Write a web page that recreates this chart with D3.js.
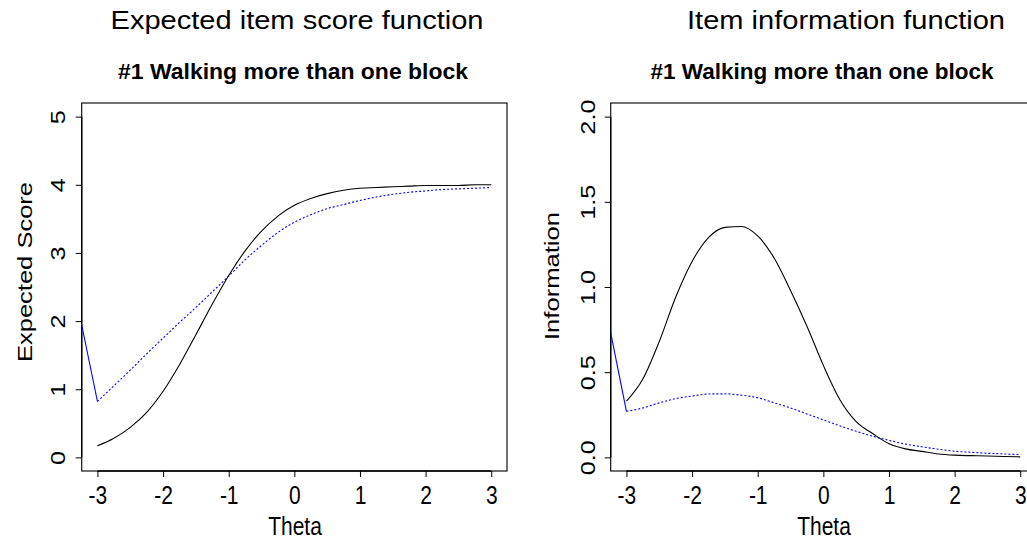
<!DOCTYPE html>
<html>
<head>
<meta charset="utf-8">
<script src="https://cdn.jsdelivr.net/npm/d3@7"></script>
<style>
  body { margin: 0; background: #fff; }
  svg { display: block; font-family: "Liberation Sans", Arial, sans-serif; }
</style>
</head>
<body>
<svg id="chart" width="1027" height="544"></svg>
<script>
// theta grid the curves were read at
var theta = [-3, -2.75, -2.5, -2.25, -2, -1.75, -1.5, -1.25, -1, -0.75, -0.5, -0.25,
  0, 0.25, 0.5, 0.75, 1, 1.25, 1.5, 1.75, 2, 2.25, 2.5, 2.75, 3];

// expected item score (black solid / blue dotted)
var scoreBlack = [0.17, 0.28, 0.44, 0.66, 0.97, 1.36, 1.80, 2.25, 2.67, 3.03, 3.32, 3.54,
  3.70, 3.80, 3.87, 3.92, 3.95, 3.96, 3.97, 3.98, 3.99, 3.99, 3.99, 4.0, 4.0];
var scoreBlue = [0.82, 1.05, 1.28, 1.52, 1.75, 1.98, 2.20, 2.43, 2.66, 2.90, 3.11, 3.30,
  3.45, 3.56, 3.65, 3.71, 3.77, 3.82, 3.86, 3.89, 3.91, 3.93, 3.94, 3.95, 3.96];

// item information (black solid / blue dotted)
var infoBlack = [0.33, 0.46, 0.68, 0.94, 1.15, 1.29, 1.35, 1.355, 1.30, 1.17, 0.98, 0.77,
  0.54, 0.34, 0.21, 0.14, 0.08, 0.05, 0.035, 0.02, 0.013, 0.01, 0.008, 0.005, 0.003];
var infoBlue = [0.27, 0.29, 0.32, 0.345, 0.36, 0.372, 0.373, 0.365, 0.35, 0.32, 0.29, 0.255,
  0.22, 0.185, 0.153, 0.124, 0.10, 0.078, 0.062, 0.048, 0.036, 0.03, 0.024, 0.02, 0.016];

// the short solid blue piece at the left edge
var lowEndTheta = [-3.25, -3];
var scoreLowEnd = [1.99, 0.82];
var infoLowEnd = [0.75, 0.27];

var xTicks = [-3, -2, -1, 0, 1, 2, 3];
var scoreTicks = [0, 1, 2, 3, 4, 5];
var infoTicks = [0, 0.5, 1, 1.5, 2];

var svg = d3.select("#chart");
var font = 21;
var stretch = 1.2;   // the original text is drawn a bit taller than wide

function panel(opt) {
  var x = d3.scaleLinear().domain([-3.24, 3.24]).range([opt.left, opt.right]);
  var y = d3.scaleLinear().domain(opt.ydom).range([471, 103]);
  var g = svg.append("g");

  g.append("clipPath").attr("id", opt.id)
    .append("rect")
    .attr("x", opt.left).attr("y", 103)
    .attr("width", opt.right - opt.left).attr("height", 471 - 103);

  // box
  g.append("rect")
    .attr("x", opt.left).attr("y", 103)
    .attr("width", opt.right - opt.left).attr("height", 471 - 103)
    .attr("fill", "none").attr("stroke", "#111").attr("stroke-width", 1.2);

  // x axis
  var xa = g.append("g").attr("transform", "translate(0,471)")
    .call(d3.axisBottom(x).tickValues(xTicks).tickSize(6).tickSizeOuter(0));
  xa.select(".domain").remove();
  xa.append("line")
    .attr("x1", x(xTicks[0])).attr("x2", x(xTicks[xTicks.length - 1]))
    .attr("stroke", "#000").attr("stroke-width", 1.4);
  xa.selectAll(".tick line").attr("stroke", "#000");
  xa.selectAll(".tick text")
    .attr("y", 0).attr("dy", null)
    .attr("transform", "translate(0,33) scale(1," + stretch + ")")
    .style("font-size", font + "px").style("fill", "#000")
    .text(function (d) { return d < 0 ? "-" + Math.abs(d) : d; });

  // y axis, labels turned like R's default
  var ya = g.append("g").attr("transform", "translate(" + opt.left + ",0)")
    .call(d3.axisLeft(y).tickValues(opt.yticks).tickSize(6).tickSizeOuter(0).tickFormat(opt.yfmt));
  ya.select(".domain").remove();
  ya.append("line")
    .attr("y1", y(opt.yticks[0])).attr("y2", y(opt.yticks[opt.yticks.length - 1]))
    .attr("stroke", "#000").attr("stroke-width", 1.4);
  ya.selectAll(".tick line").attr("stroke", "#000");
  ya.selectAll(".tick text")
    .attr("x", 0).attr("dy", null)
    .attr("text-anchor", "middle")
    .attr("transform", "translate(" + (-opt.tickGap) + ",0) rotate(-90) scale(" + stretch + ",1)")
    .style("font-size", font + "px").style("fill", "#000");

  var line = d3.line()
    .x(function (d) { return x(d[0]); })
    .y(function (d) { return y(d[1]); })
    .curve(d3.curveMonotoneX);

  var plot = g.append("g").attr("clip-path", "url(#" + opt.id + ")");

  plot.append("path")
    .datum(d3.zip(lowEndTheta, opt.lowEnd))
    .attr("d", line)
    .attr("fill", "none").attr("stroke", "#0000ff").attr("stroke-width", 1.1);

  plot.append("path")
    .datum(d3.zip(theta, opt.blue))
    .attr("d", line)
    .attr("fill", "none").attr("stroke", "#0000ff").attr("stroke-width", 1.1)
    .attr("stroke-dasharray", "2,2");

  plot.append("path")
    .datum(d3.zip(theta, opt.black))
    .attr("d", line)
    .attr("fill", "none").attr("stroke", "#000").attr("stroke-width", 1.1);

  // titles and axis labels
  svg.append("text")
    .attr("transform", "translate(" + opt.titleX + ",29) scale(1,1.05)")
    .attr("text-anchor", "middle")
    .attr("textLength", opt.titleLen).attr("lengthAdjust", "spacingAndGlyphs")
    .style("font-size", "25px")
    .text(opt.title);

  svg.append("text")
    .attr("transform", "translate(" + opt.subX + ",79) scale(1," + stretch + ")")
    .attr("text-anchor", "middle")
    .attr("textLength", opt.subLen).attr("lengthAdjust", "spacingAndGlyphs")
    .style("font-size", "19px").style("font-weight", "bold")
    .text("#1 Walking more than one block");

  svg.append("text")
    .attr("transform", "translate(" + (opt.left + 295 - 81.7) + ",535) scale(1," + stretch + ")")
    .attr("text-anchor", "middle")
    .style("font-size", font + "px")
    .text("Theta");

  svg.append("text")
    .attr("transform", "translate(" + opt.ylabX + "," + opt.ylabY + ") rotate(-90)")
    .attr("text-anchor", "middle")
    .attr("textLength", opt.ylabLen).attr("lengthAdjust", "spacingAndGlyphs")
    .style("font-size", font + "px")
    .text(opt.ylab);
}

panel({
  id: "clipA", left: 81.7, right: 507, ydom: [-0.2, 5.2],
  yticks: scoreTicks, yfmt: d3.format("d"), tickGap: 17,
  black: scoreBlack, blue: scoreBlue, lowEnd: scoreLowEnd,
  title: "Expected item score function", titleX: 297, titleLen: 373,
  subX: 293, subLen: 350,
  ylab: "Expected Score", ylabX: 32, ylabY: 272, ylabLen: 180
});

panel({
  id: "clipB", left: 610.7, right: 1036, ydom: [-0.08, 2.08],
  yticks: infoTicks, yfmt: d3.format(".1f"), tickGap: 16,
  black: infoBlack, blue: infoBlue, lowEnd: infoLowEnd,
  title: "Item information function", titleX: 846, titleLen: 318,
  subX: 822, subLen: 343,
  ylab: "Information", ylabX: 559, ylabY: 276, ylabLen: 128
});
</script>
</body>
</html>
